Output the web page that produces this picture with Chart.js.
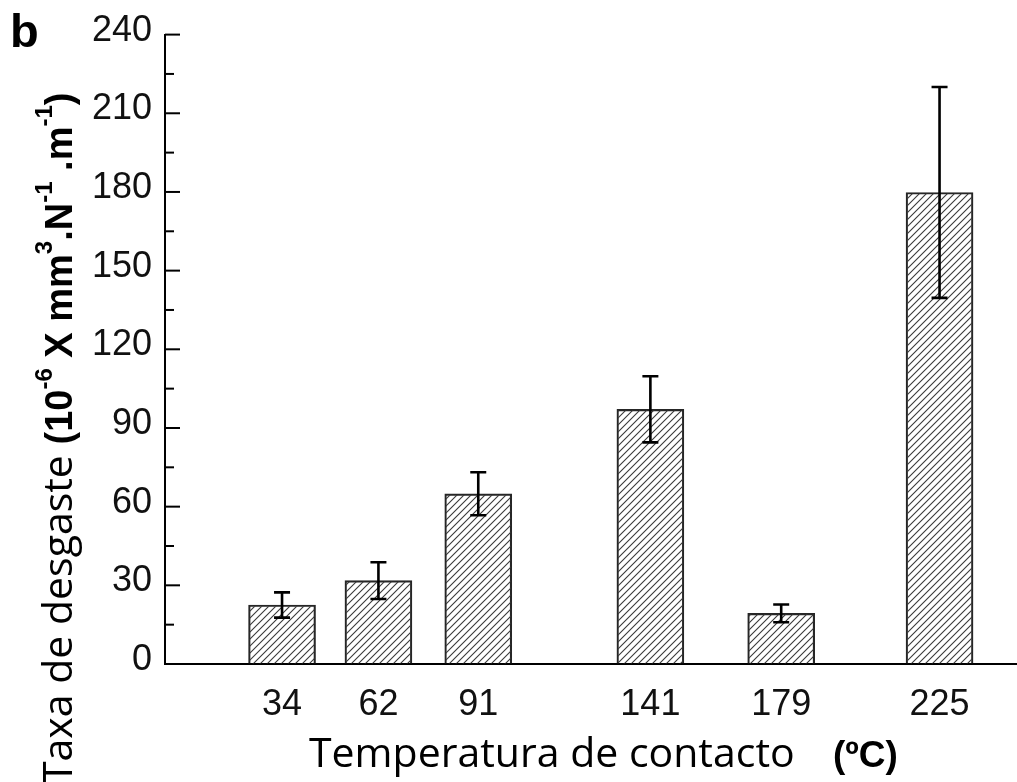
<!DOCTYPE html>
<html>
<head>
<meta charset="utf-8">
<script src="https://cdn.jsdelivr.net/npm/chart.js@4/dist/chart.umd.min.js"></script>
<style>
  html, body { margin: 0; padding: 0; background: #fff; }
  #wrap { position: relative; width: 1017px; height: 782px; }
</style>
</head>
<body>
<div id="wrap"><canvas id="c"></canvas></div>
<script>
// Contact temperature (ºC) of each test and its measured wear rate
const temperatures = [34, 62, 91, 141, 179, 225];
const wearRate     = [22.5, 31.8, 64.9, 97.1, 19.3, 179.8];
const wearError    = [4.8, 7.0, 8.2, 12.6, 3.4, 40.2];
const xTickLabels  = ['34', '62', '91', '141', '179', '225'];
const yTicks       = [0, 30, 60, 90, 120, 150, 180, 210, 240];

const canvas = document.getElementById('c');
const mainCtx = canvas.getContext('2d');

// Diagonal "///" hatch fill for the bars
function hatchPattern() {
  const s = 7;
  const tile = document.createElement('canvas');
  tile.width = s; tile.height = s;
  const g = tile.getContext('2d');
  g.strokeStyle = '#3a3a3a';
  g.lineWidth = 1.1;
  g.beginPath();
  g.moveTo(-1, s + 1); g.lineTo(s + 1, -1);
  g.moveTo(-1, 1); g.lineTo(1, -1);
  g.moveTo(s - 1, s + 1); g.lineTo(s + 1, s - 1);
  g.stroke();
  return mainCtx.createPattern(tile, 'repeat');
}

const REG = "41px 'Open Sans'";
const BOLD = "bold 38px 'Liberation Sans'";
const SUP = "bold 24px 'Liberation Sans'";

// Text runs drawn left to right along a baseline (with superscripts)
function drawRuns(ctx, runs) {
  let pos = 0;
  ctx.textBaseline = 'alphabetic';
  ctx.textAlign = 'left';
  runs.forEach(r => {
    ctx.font = r.font;
    ctx.fillText(r.text, pos, -(r.rise || 0));
    pos += ctx.measureText(r.text).width;
  });
}

const yTitleRuns = [
  { text: 'Taxa de desgaste ', font: REG },
  { text: '(10', font: BOLD },
  { text: '-6', font: SUP, rise: 20 },
  { text: ' X mm', font: BOLD },
  { text: '3', font: SUP, rise: 20 },
  { text: '.N', font: BOLD },
  { text: '-1', font: SUP, rise: 20 },
  { text: ' .m', font: BOLD },
  { text: '-1', font: SUP, rise: 20 },
  { text: ')', font: BOLD }
];

const decorations = {
  id: 'decorations',
  afterDatasetsDraw(chart) {
    const { ctx, scales: { x, y } } = chart;
    ctx.save();
    ctx.strokeStyle = '#000';
    ctx.lineWidth = 2.6;
    ctx.lineCap = 'butt';
    temperatures.forEach((t, i) => {
      const px = x.getPixelForValue(t);
      const hi = y.getPixelForValue(wearRate[i] + wearError[i]);
      const lo = y.getPixelForValue(wearRate[i] - wearError[i]);
      ctx.beginPath();
      ctx.moveTo(px, hi); ctx.lineTo(px, lo);
      ctx.moveTo(px - 8, hi); ctx.lineTo(px + 8, hi);
      ctx.moveTo(px - 8, lo); ctx.lineTo(px + 8, lo);
      ctx.stroke();
    });
    ctx.restore();
  },
  afterDraw(chart) {
    const { ctx, chartArea, scales: { y } } = chart;
    ctx.save();
    // inward major and minor ticks on the value axis
    ctx.strokeStyle = '#000';
    ctx.lineWidth = 2;
    const left = chartArea.left;
    yTicks.forEach((v, i) => {
      const py = y.getPixelForValue(v);
      ctx.beginPath(); ctx.moveTo(left, py); ctx.lineTo(left + 15, py); ctx.stroke();
      if (i < yTicks.length - 1) {
        const pm = y.getPixelForValue((v + yTicks[i + 1]) / 2);
        ctx.beginPath(); ctx.moveTo(left, pm); ctx.lineTo(left + 9, pm); ctx.stroke();
      }
    });

    ctx.fillStyle = '#000';
    // panel letter
    ctx.font = "bold 47px 'Liberation Sans'";
    ctx.textBaseline = 'alphabetic';
    ctx.fillText('b', 10, 47);

    // x-axis title
    ctx.font = REG;
    ctx.fillText('Temperatura de contacto', 309, 767);
    ctx.font = "bold 37px 'Liberation Sans'";
    ctx.fillText('(ºC)', 833, 767);

    // y-axis title, rotated
    ctx.save();
    ctx.translate(72, 784);
    ctx.rotate(-Math.PI / 2);
    drawRuns(ctx, yTitleRuns);
    ctx.restore();
    ctx.restore();
  }
};

new Chart(canvas, {
  type: 'bar',
  data: {
    datasets: [{
      data: temperatures.map((t, i) => ({ x: t, y: wearRate[i] })),
      backgroundColor: hatchPattern(),
      borderColor: '#262626',
      borderWidth: 1.5,
      barThickness: 67
    }]
  },
  options: {
    responsive: true,
    maintainAspectRatio: false,
    animation: false,
    layout: { padding: { top: 33, left: 0, right: 0, bottom: 0 } },
    plugins: { legend: { display: false }, tooltip: { enabled: false } },
    scales: {
      x: {
        type: 'linear',
        min: 0,
        max: 247.5,
        offset: false,
        afterFit(scale) { scale.height = 118; },
        afterBuildTicks(scale) { scale.ticks = temperatures.map(v => ({ value: v })); },
        grid: { display: true, drawOnChartArea: false, drawTicks: false, offset: false },
        border: { display: true, color: '#000', width: 2 },
        ticks: {
          autoSkip: false,
          maxRotation: 0,
          padding: 19,
          color: '#111',
          font: { family: "'Liberation Sans'", size: 36 },
          callback: (v) => xTickLabels[temperatures.indexOf(v)] ?? ''
        }
      },
      y: {
        min: 0,
        max: 240,
        afterFit(scale) { scale.width = 165; },
        afterBuildTicks(scale) { scale.ticks = yTicks.map(v => ({ value: v })); },
        grid: { display: true, drawOnChartArea: false, drawTicks: false },
        border: { display: true, color: '#000', width: 2 },
        ticks: {
          padding: 13,
          labelOffset: -4,
          color: '#111',
          font: { family: "'Liberation Sans'", size: 36 }
        }
      }
    }
  },
  plugins: [decorations]
});
</script>
</body>
</html>
